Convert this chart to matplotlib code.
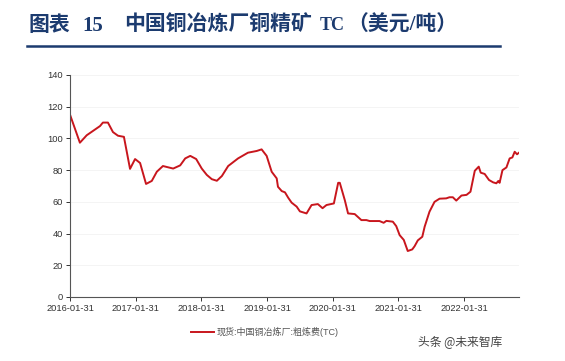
import pandas as pd
import numpy as np
import matplotlib
matplotlib.use("Agg")
import matplotlib.pyplot as plt
import matplotlib.dates as mdates

plt.rcParams['font.family'] = ['Liberation Sans', 'Noto Sans CJK SC', 'DejaVu Sans']

# TC values (USD/ton)
dates = ["2016-01-31", "2016-03-26", "2016-05-03", "2016-07-16", "2016-08-01", "2016-08-29",
         "2016-09-26", "2016-10-24", "2016-11-26", "2016-12-30", "2017-01-27", "2017-02-24",
         "2017-03-29", "2017-04-30", "2017-05-28", "2017-07-01", "2017-08-27", "2017-10-05",
         "2017-11-02", "2017-11-30", "2018-01-02", "2018-02-02", "2018-03-02", "2018-03-30",
         "2018-04-27", "2018-05-25", "2018-06-29", "2018-08-23", "2018-10-17", "2018-12-05",
         "2019-01-01", "2019-01-29", "2019-02-26", "2019-03-26", "2019-04-02", "2019-04-23",
         "2019-05-11", "2019-05-29", "2019-06-17", "2019-07-15", "2019-08-02", "2019-09-08",
         "2019-10-06", "2019-11-10", "2019-12-06", "2019-12-28", "2020-02-07", "2020-03-02",
         "2020-03-11", "2020-04-08", "2020-04-26", "2020-06-02", "2020-07-09", "2020-08-06",
         "2020-08-24", "2020-10-18", "2020-11-10", "2020-11-25", "2020-12-31", "2021-01-19",
         "2021-02-07", "2021-03-02", "2021-03-24", "2021-04-18", "2021-05-01", "2021-05-19",
         "2021-06-13", "2021-06-26", "2021-07-23", "2021-08-20", "2021-09-17", "2021-10-24",
         "2021-11-11", "2021-11-30", "2021-12-19", "2022-01-17", "2022-02-14", "2022-03-08",
         "2022-04-01", "2022-04-23", "2022-05-04", "2022-05-26", "2022-06-19", "2022-07-12",
         "2022-07-30", "2022-08-10", "2022-08-17", "2022-09-02", "2022-09-24", "2022-10-12",
         "2022-10-27", "2022-11-09", "2022-11-22", "2022-12-03"]
tc = [115, 97.3, 102, 107.8, 110, 110,
      104, 101.7, 101, 80.8, 87, 84.5,
      71.3, 73.2, 79, 82.6, 81, 83,
      87.4, 89, 87, 81, 77, 74.3,
      73.3, 76.3, 82.6, 87.4, 91, 92.1,
      93.1, 89, 79, 74.8, 69.5, 66.8,
      66, 62.6, 59.5, 57, 54, 52.7,
      58, 58.6, 56, 58, 59, 72,
      72, 61, 52.7, 52.3, 48.5, 48.5,
      47.9, 47.9, 46.8, 48, 47.5, 44.7,
      39, 36, 29, 30, 32, 35.7,
      38, 44.3, 53.8, 60, 62, 62.2,
      62.9, 62.9, 60.8, 64, 64.4, 66.4,
      79.6, 82.2, 78.4, 77.6, 73.8, 72.3,
      71.7, 73.2, 72, 80, 81.7, 87.4,
      88, 91.6, 90, 91]
tick_dates = ["2016-01-31", "2017-01-31", "2018-01-31", "2019-01-31",
              "2020-01-31", "2021-01-31", "2022-01-31"]
yticks = [0, 20, 40, 60, 80, 100, 120, 140]

df = pd.DataFrame({"date": pd.to_datetime(dates), "tc": tc})

W, H = 565, 361
blue = "#1C3B6F"
fig = plt.figure(figsize=(W / 100, H / 100), dpi=100)
ax = fig.add_axes([70 / W, 1 - 297 / H, 449 / W, 222 / H])

ax.plot(df["date"], df["tc"], color="#C8161D", lw=1.4,
        label="现货:中国铜冶炼厂:粗炼费(TC)")

ax.set_xlim(df["date"].iloc[0], df["date"].iloc[-1])
ax.set_ylim(0, 140)
ax.set_yticks(yticks)
ax.set_xticks(pd.to_datetime(tick_dates))
ax.xaxis.set_major_formatter(mdates.DateFormatter("%Y-%m-%d"))
ax.grid(axis="y", color="#f3f3f3", lw=0.6)
ax.set_axisbelow(True)
for s in ["top", "right"]:
    ax.spines[s].set_visible(False)
for s in ["left", "bottom"]:
    ax.spines[s].set_color("#555555")
    ax.spines[s].set_linewidth(0.8)
ax.tick_params(labelsize=6.7, colors="#333333", length=3, width=0.7, pad=2)

leg = fig.legend(loc="center left", bbox_to_anchor=(191 / W, 1 - 332 / H),
                 frameon=False, fontsize=6.5, handlelength=2.6, handletextpad=0.2,
                 borderpad=0, borderaxespad=0)
for t in leg.get_texts():
    t.set_color("#555555")

# title + rule
tfont = ["Liberation Serif", "Noto Sans CJK SC"]
ty = 1 - 26 / H
fig.text(28 / W, ty, "图表", family=tfont, fontweight="bold",
         fontsize=15, color=blue, va="center", ha="left")
fig.text(82 / W, ty, "15", family=tfont, fontweight="bold",
         fontsize=15, color=blue, va="center", ha="left")
fig.text(124 / W, ty, "中国铜冶炼厂铜精矿", family=tfont,
         fontweight="bold", fontsize=15, color=blue, va="center", ha="left")
fig.text(320 / W, ty, "TC", family=tfont,
         fontweight="bold", fontsize=13, color=blue, va="center", ha="left")
fig.text(347 / W, ty, "（美元/吨）", family=tfont,
         fontweight="bold", fontsize=15, color=blue, va="center", ha="left")
fig.add_artist(plt.Line2D([27 / W, 500 / W], [1 - 46 / H, 1 - 46 / H], color=blue, lw=1.8))

# watermark
fig.text(418 / W, 1 - 343 / H, "头条 @未来智库", family=["Noto Sans CJK SC"],
         fontsize=8.5, color="#444444", va="center", ha="left")

fig.savefig("out.png", dpi=100)
